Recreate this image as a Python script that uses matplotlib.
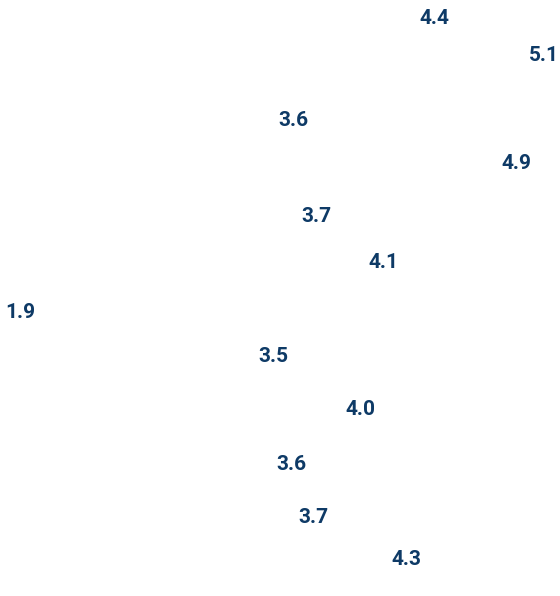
import matplotlib.pyplot as plt

# values shown as labels (x) and the second variable that sets row height (y, 0-100)
values = [4.43, 5.10, 3.57, 4.93, 3.71, 4.12, 1.90, 3.45, 3.98, 3.56, 3.69, 4.26]
scores = [96.9, 90.7, 79.7, 72.5, 63.7, 56.0, 47.6, 40.2, 31.3, 22.1, 13.1, 6.2]

COLOR = "#0e3a66"

fig = plt.figure(figsize=(5.6, 5.96), dpi=100)
ax = fig.add_axes([0, 0, 1, 1])

for v, s in zip(values, scores):
    ax.text(v, s, f"{v:.1f}", ha="left", va="center", color=COLOR,
            fontsize=15, fontweight="bold", family=["Roboto", "DejaVu Sans"])

ax.set_xlim(1.8695, 5.289)
ax.set_ylim(0, 100)
ax.axis("off")

fig.savefig("out.png", dpi=100)
